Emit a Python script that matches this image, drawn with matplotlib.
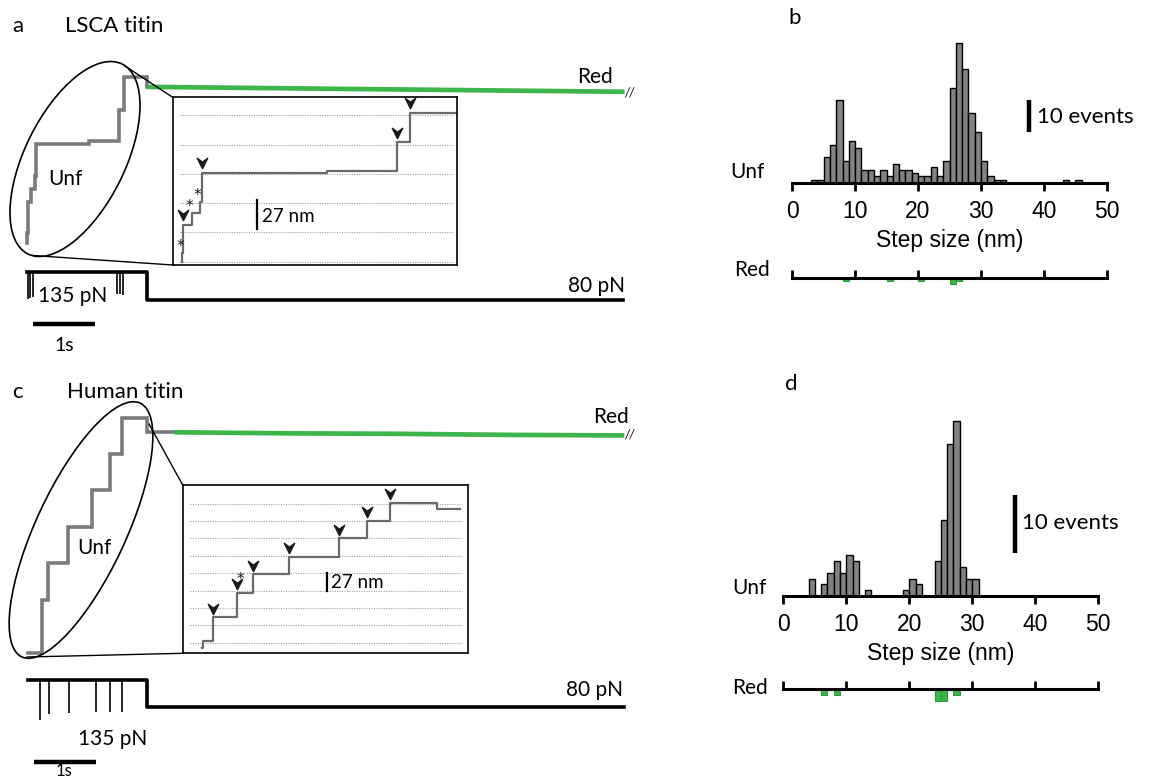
import matplotlib.pyplot as plt
from matplotlib.patches import Ellipse
from matplotlib.path import Path

W, H = 1153, 778
SANS = 'Lato'
HELV = 'Liberation Sans'
GRAY = '#7b7b7b'
GREEN = '#3db54a'
BAR_GRAY = '#828282'

# ---------------- data ----------------
# step-size histograms, 1 nm bins (left edges) and counts
b_unf_bins = [3, 4, 5, 6, 7, 8, 9, 10, 11, 12, 13, 14, 15, 16, 17, 18, 19, 20, 21, 22,
              23, 24, 25, 26, 27, 28, 29, 30, 31, 32, 33, 43, 45]
b_unf_counts = [1, 1, 8, 12, 26, 7, 13, 11, 4, 4, 2, 4, 2, 6, 4, 4, 3, 2, 2, 5,
                2, 7, 30, 44, 36, 22, 16, 7, 2, 1, 1, 1, 1]
b_red_bins = [8, 15, 20, 25, 26]
b_red_counts = [1, 1, 1, 2, 1]

d_unf_bins = [4, 6, 7, 8, 9, 10, 11, 13, 19, 20, 21, 24, 25, 26, 27, 28, 29, 30]
d_unf_counts = [3, 2, 4, 6, 4, 7, 6, 1, 1, 3, 2, 6, 13, 26, 30, 5, 3, 3]
d_red_bins = [6, 8, 24, 25, 27]
d_red_counts = [1, 1, 2, 2, 1]

hist_ticks = [0, 10, 20, 30, 40, 50]

# LSCA titin trace: time (s) / extension (nm), step levels
a_unf_t = [0, 0.005, 0.011, 0.069, 0.126, 0.141, 1.0, 1.476, 1.567, 1.935, 1.98]
a_unf_ext = [0, 8, 34, 45, 55, 82, 84, 110, 137, 129, 129]
a_red_t = [1.98, 3.9, 5.8, 7.7, 9.6]
a_red_ext = [129, 128, 127, 126, 125]
a_arrow_steps = [2, 5, 7, 8]
a_star_steps = [1, 3, 4]
a_force_t = [0, 1.935, 9.62]
a_force_pN = [135, 80, 80]
a_dip_t = [0.01, 0.05, 0.1, 1.45, 1.5, 1.55]
a_dip_pN = [82, 84, 86, 92, 92, 90]

# Human titin trace
c_unf_t = [0, 0.221, 0.327, 0.65, 1.027, 1.323, 1.511, 1.915, 2.4]
c_unf_ext = [0, 51, 86.5, 121.5, 157, 192, 226, 212.5, 212.5]
c_red_t = [2.4, 4.2, 6.0, 7.8, 9.58]
c_red_ext = [212.5, 211.5, 211, 210, 209.5]
c_zoom_t = [0, 0.008, 0.089, 0.282, 0.412, 0.697, 1.097, 1.324, 1.504, 1.883, 2.063]
c_zoom_ext = [-8.7, 3, 39.5, 77.5, 106.5, 133.5, 162, 189.5, 217.5, 207, 207]
c_arrow_steps = [2, 3, 4, 5, 6, 7, 8]
c_star_steps = [3]
c_force_t = [0, 1.92, 9.62]
c_force_pN = [135, 80, 80]
c_dip_t = [0.194, 0.335, 0.665, 1.097, 1.323, 1.516]
c_dip_pN = [54, 66, 68, 70, 70, 70]

# ---------------- figure ----------------
fig = plt.figure(figsize=(W / 100, H / 100), dpi=100)


def px_axes(x0, y0, x1, y1, z=1):
    ax = fig.add_axes([x0 / W, 1 - y1 / H, (x1 - x0) / W, (y1 - y0) / H], zorder=z)
    ax.patch.set_alpha(0)
    return ax


# overlay in pixel units for labels, ellipses and zoom cones (drawn on top)
ov = px_axes(0, 0, W, H, z=10)
ov.set_xlim(0, W)
ov.set_ylim(H, 0)
ov.axis('off')

chevron = Path([(-1, 1), (0, -1), (1, 1), (0, 0.25), (-1, 1)],
               [Path.MOVETO, Path.LINETO, Path.LINETO, Path.LINETO, Path.CLOSEPOLY])


def txt(x, y, s, size=15, ha='left', family=SANS, **kw):
    ov.text(x, y, s, fontsize=size, ha=ha, va='center', family=family, **kw)


# ---------- traces ----------
def trace_panel(y0, y1, x_zero, y_zero, px_nm, t, ext, rt, rext):
    ax = px_axes(0, y0, 660, y1)
    ax.set_xlim(-x_zero / 62, (660 - x_zero) / 62)
    ax.set_ylim((y_zero - y1) / px_nm, (y_zero - y0) / px_nm)
    ax.axis('off')
    ax.step(t, ext, where='post', color=GRAY, lw=2.6, solid_joinstyle='miter')
    ax.plot(rt, rext, color=GREEN, lw=3.4)
    return ax


def force_panel(y0, y1, x_zero, y_hi, px_pN, t, f, dt, df, bar_y):
    ax = px_axes(0, y0, 660, y1)
    ax.set_xlim(-x_zero / 62, (660 - x_zero) / 62)
    ax.set_ylim(135 - (y1 - y_hi) / px_pN, 135 + (y_hi - y0) / px_pN)
    ax.axis('off')
    ax.step(t, f, where='post', color='black', lw=2.6)
    ax.vlines(dt, df, 135, color='black', lw=1.2)
    fb = 135 - (bar_y - y_hi) / px_pN
    ax.plot([0.1, 1.1], [fb, fb], color='black', lw=3.2, clip_on=False,
            solid_capstyle='butt')
    return ax


def inset_panel(box, t_zero, px_s, y_zero, px_nm, t, ext, grid_n, grid_t,
                arrows, stars, arrow_off, star_dt, star_de, bar_t, bar_e):
    x0, y0, x1, y1 = box
    ax = px_axes(x0, y0, x1, y1, z=2)
    ax.patch.set_alpha(1)
    ax.set_facecolor('white')
    ax.set_xlim((x0 - t_zero) / px_s, (x1 - t_zero) / px_s)
    ax.set_ylim((y_zero - y1) / px_nm, (y_zero - y0) / px_nm)
    ax.set_xticks([])
    ax.set_yticks([])
    for s in ax.spines.values():
        s.set_linewidth(1.2)
    ax.hlines([27 * k for k in range(grid_n)], grid_t[0], grid_t[1],
              color='#a0a0a0', lw=0.8, linestyles=(0, (1, 1.2)))
    ax.step(t, ext, where='post', color='#6a6a6a', lw=1.6)
    ax.plot([t[i] for i in arrows], [ext[i] + arrow_off for i in arrows],
            ls='none', marker=chevron, ms=7.5, color='#1a1a1a')
    for i in stars:
        ax.text(t[i] + star_dt, ext[i] + star_de, '*', fontsize=11,
                ha='center', va='center', color='#1a1a1a')
    ax.plot([bar_t, bar_t], [bar_e, bar_e + 27], color='black', lw=1.6)
    return ax


# panel a
trace_panel(40, 262, 27, 243, 1.21, a_unf_t, a_unf_ext, a_red_t, a_red_ext)
force_panel(262, 315, 27, 272, 0.509, a_force_t, a_force_pN, a_dip_t, a_dip_pN, 324)
inset_panel((172.7, 97.3, 456.7, 265), 181.7, 145.7, 261.7, 1.085,
            a_unf_t, a_unf_ext, 6, (-0.012, 1.862),
            a_arrow_steps, a_star_steps, 9, -0.015, 6, 0.519, 30)

# panel c
trace_panel(395, 665, 28, 653.3, 1.04, c_unf_t, c_unf_ext, c_red_t, c_red_ext)
force_panel(665, 735, 28, 680, 0.491, c_force_t, c_force_pN, c_dip_t, c_dip_pN, 762)
inset_panel((182.7, 485, 468.3, 653.3), 201.7, 125.2, 642.7, 0.644,
            c_zoom_t, c_zoom_ext, 9, (-0.093, 2.077),
            c_arrow_steps, c_star_steps, 13, 0.03, 20, 0.998, 81)

# ellipses and zoom cones
ov.add_patch(Ellipse((75, 159), 212, 100, angle=-63.6, fill=False, lw=1.2,
                     edgecolor='black'))
ov.plot([125, 172.7], [66, 97.3], color='black', lw=1.0)
ov.plot([33, 172.7], [255.5, 265], color='black', lw=1.0)
ov.add_patch(Ellipse((81, 530), 280, 90, angle=-65, fill=False, lw=1.2,
                     edgecolor='black'))
ov.plot([149, 182.7], [424, 485], color='black', lw=1.0)
ov.plot([27, 182.7], [657, 653.3], color='black', lw=1.0)

# trace labels
txt(12, 26, 'a', 16)
txt(65, 26, 'LSCA titin', 16)
txt(12, 392, 'c', 16)
txt(67, 392, 'Human titin', 16)
txt(48, 179, 'Unf', 15)
txt(77, 548, 'Unf', 15)
txt(577, 77, 'Red', 15)
txt(593, 417, 'Red', 15)
txt(624, 92, '//', 9, style='italic')
txt(624, 434, '//', 9, style='italic')
txt(262, 216, '27 nm', 13.5)
txt(331, 583, '27 nm', 13.5)
txt(38, 296, '135 pN', 15)
txt(625, 286, '80 pN', 15, ha='right')
txt(78, 739, '135 pN', 15)
txt(623, 690, '80 pN', 15, ha='right')
txt(64, 345, '1s', 14, ha='center')
txt(64, 771, '1s', 12, ha='center')


# ---------- histograms ----------
def hist_panel(x0, x1, base, px_event, ymax, bins, counts, bar_x, bar_y):
    ax = px_axes(x0, base - ymax * px_event, x1, base)
    ax.set_xlim(0, 50)
    ax.set_ylim(0, ymax)
    ax.bar([b + 0.5 for b in bins], counts, width=1, color=BAR_GRAY,
           edgecolor='black', lw=1.0, clip_on=False)
    for s in ['top', 'left', 'right']:
        ax.spines[s].set_visible(False)
    ax.spines['bottom'].set_linewidth(2.2)
    ax.set_yticks([])
    ax.set_xticks(hist_ticks)
    ax.tick_params(axis='x', direction='out', length=5.5, width=2, pad=7,
                   labelsize=16.5)
    for lab in ax.get_xticklabels():
        lab.set_family(HELV)
    ax.set_xlabel('Step size (nm)', fontsize=16.5, family=HELV, labelpad=4)
    ax.plot([bar_x, bar_x], [bar_y, bar_y + 10], color='black', lw=3.2,
            clip_on=False, solid_capstyle='butt')
    return ax


def red_panel(x0, x1, line_y, px_event, bins, counts):
    ax = px_axes(x0, line_y, x1, line_y + 3 * px_event)
    ax.set_xlim(0, 50)
    ax.set_ylim(-3, 0)
    ax.bar([b + 0.5 for b in bins], [-c for c in counts], width=1, color=GREEN,
           edgecolor='#2a9a3a', lw=0.8)
    for s in ['bottom', 'left', 'right']:
        ax.spines[s].set_visible(False)
    ax.spines['top'].set_linewidth(2.2)
    ax.set_yticks([])
    ax.set_xticks(hist_ticks)
    ax.xaxis.set_ticks_position('top')
    ax.tick_params(axis='x', direction='out', length=5.5, width=2,
                   labeltop=False, labelbottom=False)
    return ax


hist_panel(792.3, 1106.7, 182.7, 3.17, 46, b_unf_bins, b_unf_counts, 37.6, 16)
red_panel(792.3, 1106.7, 277.5, 3.17, b_red_bins, b_red_counts)
hist_panel(783.3, 1098.3, 596, 5.83, 31, d_unf_bins, d_unf_counts, 36.8, 7.4)
red_panel(783.3, 1098.3, 689, 5.83, d_red_bins, d_red_counts)

txt(788, 18, 'b', 16)
txt(785, 384, 'd', 16)
txt(1037, 117, '10 events', 16)
txt(1022, 523, '10 events', 16)
txt(765, 172, 'Unf', 15, ha='right')
txt(770, 270, 'Red', 15, ha='right')
txt(766, 588, 'Unf', 15, ha='right')
txt(768, 688, 'Red', 15, ha='right')

fig.savefig('out.png', dpi=100, facecolor='white')
